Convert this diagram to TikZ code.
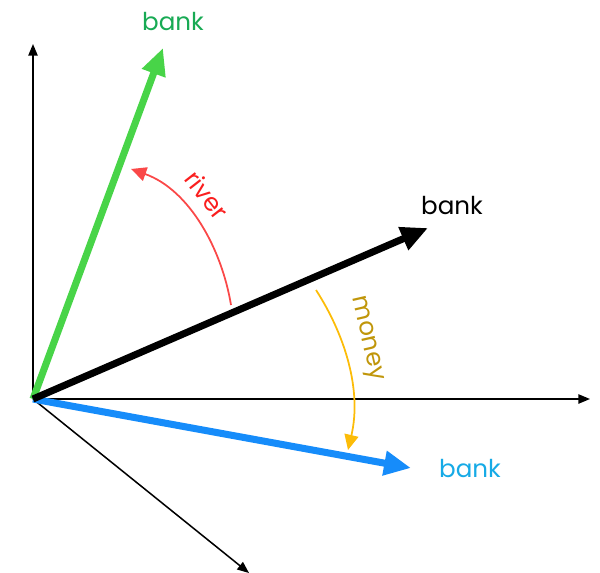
\documentclass[tikz,border=0pt]{standalone}
\usepackage{fontspec}
\setmainfont{Poppins}
\usetikzlibrary{arrows.meta}

\definecolor{grline}{RGB}{72,212,72}
\definecolor{grtext}{RGB}{24,170,84}
\definecolor{blline}{RGB}{22,140,250}
\definecolor{bltext}{RGB}{22,170,230}
\definecolor{rdline}{RGB}{250,72,72}
\definecolor{rdtext}{RGB}{250,30,30}
\definecolor{goline}{RGB}{252,188,8}
\definecolor{gotext}{RGB}{192,150,10}

\tikzset{
  axis/.style={-{Triangle[length=10pt,width=8pt]},line width=1.3pt,black},
  vec/.style={-{Triangle[length=23pt,width=20pt]},line width=6pt},
  shift arrow/.style={-{Triangle[length=13pt,width=12pt]},line width=1.5pt},
  lbl/.style={font=\fontsize{21}{25}\selectfont,inner sep=0pt},
}

\begin{document}
\begin{tikzpicture}[x=0.03cm,y=-0.03cm,>=Stealth]
  \useasboundingbox (0,0) rectangle (600,573);
  % axes
  \coordinate (O) at (33,399);
  \coordinate (yax) at (33,44);
  \coordinate (xax) at (590,399);
  \coordinate (zax) at (249,573);
  \draw[axis] (O) -- (yax);
  \draw[axis] (O) -- (xax);
  \draw[axis] (O) -- (zax);
  % word vectors
  \coordinate (bgreen) at (163,48);
  \coordinate (bblack) at (428,228);
  \coordinate (bblue) at (411,468);
  \draw[vec,grline] (O) -- (bgreen);
  \draw[vec,blline] (O) -- (bblue);
  \draw[vec,black] (O) -- (bblack);
  \node[lbl,text=grtext] (lgreen) at (173,22) {bank};
  \node[lbl,text=black] (lblack) at (452,206) {bank};
  \node[lbl,text=bltext] (lblue) at (470,469) {bank};
  % context shifts
  \coordinate (rs) at (231,305);
  \coordinate (re) at (131,169);
  \draw[shift arrow,rdline] (rs) .. controls (222,250) and (190,190) .. (re);
  \node[lbl,text=rdtext,rotate=-52] (lriver) at (207,195) {river};
  \coordinate (ms) at (316,290);
  \coordinate (me) at (348,450);
  \draw[shift arrow,goline] (ms) .. controls (345,335) and (362,390) .. (me);
  \node[lbl,text=gotext,rotate=-77] (lmoney) at (366,339) {money};
\end{tikzpicture}
\end{document}
